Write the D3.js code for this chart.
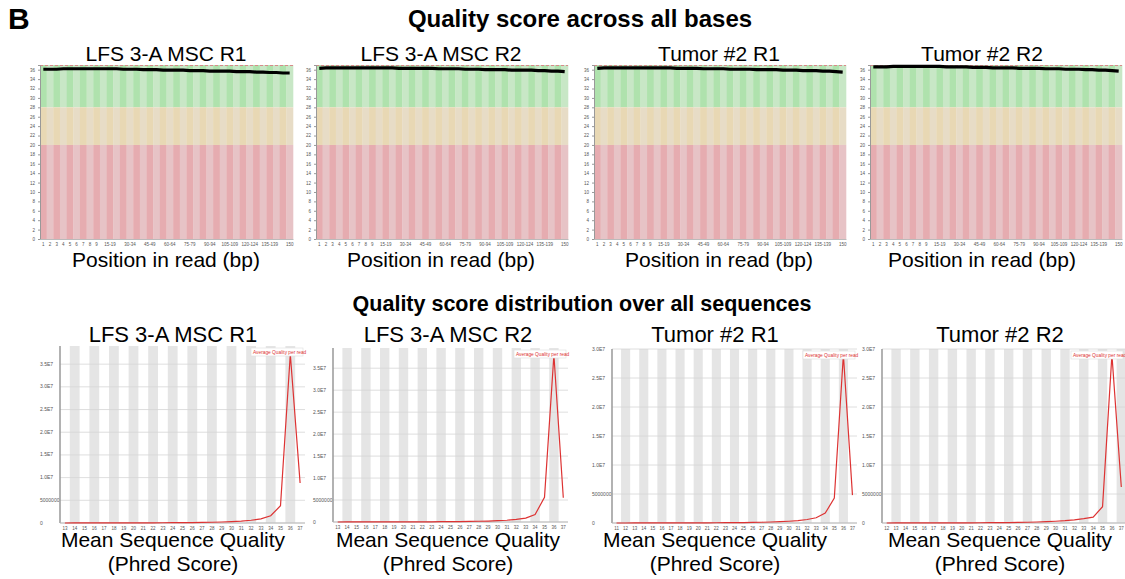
<!DOCTYPE html>
<html>
<head>
<meta charset="utf-8">
<script src="https://cdn.jsdelivr.net/npm/d3@7"></script>
<style>
  body { margin: 0; background: #fff; }
  svg { display: block; font-family: "Liberation Sans", Arial, sans-serif; }
</style>
</head>
<body>
<div id="figure"></div>
<script>
// Data

const sampleNames = ["LFS 3-A MSC R1", "LFS 3-A MSC R2", "Tumor #2 R1", "Tumor #2 R2"];

// per-base quality: x categories (FastQC grouped bins)
const positionLabels = ["1","2","3","4","5","6","7","8","9","10-14","15-19","20-24","25-29","30-34",
  "35-39","40-44","45-49","50-54","55-59","60-64","65-69","70-74","75-79","80-84","85-89","90-94",
  "95-99","100-104","105-109","110-114","115-119","120-124","125-129","130-134","135-139","140-144",
  "145-149","150"];
const shownPositionLabels = ["1","2","3","4","5","6","7","8","9","15-19","30-34","45-49","60-64",
  "75-79","90-94","105-109","120-124","135-139","150"];
const qualityTicks = [0,2,4,6,8,10,12,14,16,18,20,22,24,26,28,30,32,34,36];

// mean quality per bin, one array per sample
const meanQualR1 = [36.1,36.1,36.1,36.2,36.2,36.2,36.2,36.2,36.2,36.2,36.2,36.2,36.1,36.1,36.1,36.0,36.0,36.0,
  35.9,35.9,35.9,35.9,35.8,35.8,35.8,35.7,35.7,35.7,35.7,35.6,35.6,35.6,35.5,35.5,35.4,35.4,35.3,35.3];
const meanQualR2 = [36.3,36.4,36.4,36.4,36.4,36.4,36.4,36.4,36.4,36.4,36.4,36.4,36.3,36.3,36.3,36.3,36.3,36.3,
  36.2,36.2,36.2,36.2,36.1,36.1,36.1,36.0,36.0,36.0,36.0,35.9,35.9,35.9,35.9,35.8,35.8,35.7,35.7,35.6];
const meanQualT1 = [36.3,36.4,36.4,36.4,36.4,36.4,36.4,36.4,36.4,36.4,36.4,36.4,36.3,36.3,36.3,36.3,36.2,36.2,
  36.2,36.2,36.1,36.1,36.1,36.1,36.0,36.0,36.0,36.0,35.9,35.9,35.9,35.8,35.8,35.8,35.7,35.7,35.6,35.5];
const meanQualT2 = [36.6,36.6,36.6,36.7,36.7,36.7,36.7,36.7,36.7,36.7,36.7,36.6,36.6,36.6,36.6,36.5,36.5,36.5,
  36.4,36.4,36.4,36.4,36.3,36.3,36.3,36.3,36.2,36.2,36.2,36.1,36.1,36.1,36.0,36.0,35.9,35.9,35.8,35.7];

// per-sequence quality: mean quality categories and read counts
const seqQualCatsR1 = [13,14,15,16,17,18,19,20,21,22,23,24,25,26,27,28,29,30,31,32,33,34,35,36,37];
const seqCountsR1 = [5e3,6e3,8e3,1e4,1.2e4,1.5e4,2e4,2.5e4,3e4,4e4,5e4,6.5e4,8e4,1e5,1.3e5,1.7e5,2.2e5,
  3e5,4e5,6e5,9e5,1.6e6,3.8e6,3.72e7,8.8e6];
const seqQualCatsR2 = [13,14,15,16,17,18,19,20,21,22,23,24,25,26,27,28,29,30,31,32,33,34,35,36,37];
const seqCountsR2 = [5e3,6e3,8e3,1e4,1.2e4,1.5e4,2e4,2.5e4,3e4,4e4,5e4,6.5e4,8e4,1e5,1.3e5,1.7e5,2.2e5,
  3e5,4e5,6e5,9e5,1.7e6,5.6e6,3.8e7,5.5e6];
const seqQualCatsT1 = [11,12,13,14,15,16,17,18,19,20,21,22,23,24,25,26,27,28,29,30,31,32,33,34,35,36,37];
const seqCountsT1 = [3e3,4e3,5e3,6e3,8e3,1e4,1.2e4,1.5e4,2e4,2.5e4,3e4,4e4,5e4,6.5e4,8e4,1e5,1.3e5,1.7e5,
  2.2e5,3e5,4e5,6e5,9e5,1.7e6,4.3e6,2.9e7,4.8e6];
const seqQualCatsT2 = [12,13,14,15,16,17,18,19,20,21,22,23,24,25,26,27,28,29,30,31,32,33,34,35,36,37];
const seqCountsT2 = [4e3,5e3,6e3,8e3,1e4,1.2e4,1.5e4,2e4,2.5e4,3e4,4e4,5e4,6.5e4,8e4,1e5,1.3e5,1.7e5,
  2.2e5,3e5,4e5,5.5e5,7.5e5,1.0e6,2.8e6,2.9e7,6.2e6];
const countTicks = [0,5e6,1e7,1.5e7,2e7,2.5e7,3e7,3.5e7];

// Layout (pixel boxes of each panel)
const W = 1125, H = 579;
const topPanels = [
  {name: sampleNames[0], mean: meanQualR1, x0: 40,  x1: 293,  tx: 166},
  {name: sampleNames[1], mean: meanQualR2, x0: 316, x1: 568,  tx: 441},
  {name: sampleNames[2], mean: meanQualT1, x0: 594, x1: 846,  tx: 719},
  {name: sampleNames[3], mean: meanQualT2, x0: 870, x1: 1122, tx: 982}
];
const bottomPanels = [
  {name: sampleNames[0], cats: seqQualCatsR1, counts: seqCountsR1, x0: 60,  x1: 305,  top: 346, bottom: 523, ymax: 3.9e7,  tx: 173},
  {name: sampleNames[1], cats: seqQualCatsR2, counts: seqCountsR2, x0: 333, x1: 568,  top: 348, bottom: 522, ymax: 3.96e7, tx: 448},
  {name: sampleNames[2], cats: seqQualCatsT1, counts: seqCountsT1, x0: 612, x1: 857,  top: 349, bottom: 523, ymax: 3.0e7,  tx: 715},
  {name: sampleNames[3], cats: seqQualCatsT2, counts: seqCountsT2, x0: 882, x1: 1126, top: 349, bottom: 523, ymax: 3.0e7,  tx: 1000}
];

const svg = d3.select("#figure").append("svg")
    .attr("width", W)
    .attr("height", H);

svg.append("text")
    .attr("x", 8).attr("y", 29)
    .attr("font-size", 30).attr("font-weight", "bold")
    .text("B");

svg.append("text")
    .attr("x", 580).attr("y", 27)
    .attr("text-anchor", "middle")
    .attr("font-size", 24).attr("font-weight", "bold")
    .text("Quality score across all bases");

svg.append("text")
    .attr("x", 582).attr("y", 311)
    .attr("text-anchor", "middle")
    .attr("font-size", 21.5).attr("font-weight", "bold")
    .text("Quality score distribution over all sequences");

topPanels.forEach(p => drawBaseQuality(p));
bottomPanels.forEach(p => drawSeqQuality(p));

// per base sequence quality panel
function drawBaseQuality(p) {
    const top = 65, bottom = 239;
    const g = svg.append("g");

    const x = d3.scaleBand()
        .domain(positionLabels)
        .range([p.x0, p.x1]);
    const y = d3.scaleLinear()
        .domain([0, 37])
        .range([bottom, top]);

    const zones = [
        {lo: 28, hi: 37, dark: "#afe2ad", light: "#c8e7c6"},
        {lo: 20, hi: 28, dark: "#e8d8b4", light: "#e7dcc6"},
        {lo: 0,  hi: 20, dark: "#e6acb0", light: "#e7c3c6"}
    ];
    positionLabels.forEach((lab, i) => {
        zones.forEach(z => {
            g.append("rect")
                .attr("x", x(lab))
                .attr("y", y(z.hi))
                .attr("width", x.bandwidth() + 0.3)
                .attr("height", y(z.lo) - y(z.hi))
                .attr("fill", i % 2 === 0 ? z.dark : z.light);
        });
    });

    // dashed top border
    g.append("line")
        .attr("x1", p.x0).attr("x2", p.x1)
        .attr("y1", top + 0.5).attr("y2", top + 0.5)
        .attr("stroke", "#d88a8a").attr("stroke-width", 1)
        .attr("stroke-dasharray", "3,2");

    const yAxis = d3.axisLeft(y)
        .tickValues(qualityTicks)
        .tickSize(2)
        .tickPadding(3);
    const ya = g.append("g")
        .attr("transform", `translate(${p.x0},0)`)
        .call(yAxis);
    ya.select(".domain").attr("stroke", "#999");
    ya.selectAll(".tick line").attr("stroke", "#999");
    ya.selectAll("text").attr("font-size", 4.5).attr("fill", "#555");

    const xAxis = d3.axisBottom(x)
        .tickValues(shownPositionLabels)
        .tickSize(0)
        .tickPadding(4);
    const xa = g.append("g")
        .attr("transform", `translate(0,${bottom})`)
        .call(xAxis);
    xa.select(".domain").attr("stroke", "#bbb");
    xa.selectAll("text").attr("font-size", 4.5).attr("fill", "#555");

    const line = d3.line()
        .x((d, i) => x(positionLabels[i]) + x.bandwidth() / 2)
        .y(d => y(d));
    g.append("path")
        .datum(p.mean)
        .attr("fill", "none")
        .attr("stroke", "#000")
        .attr("stroke-width", 3.2)
        .attr("d", line);

    g.append("text")
        .attr("x", p.tx).attr("y", 61)
        .attr("text-anchor", "middle")
        .attr("font-size", 21)
        .text(p.name);

    g.append("text")
        .attr("x", p.tx).attr("y", 267)
        .attr("text-anchor", "middle")
        .attr("font-size", 21)
        .text("Position in read (bp)");
}

// per sequence quality score panel
function drawSeqQuality(p) {
    const g = svg.append("g");

    const x = d3.scaleBand()
        .domain(p.cats)
        .range([p.x0, p.x1]);
    const y = d3.scaleLinear()
        .domain([0, p.ymax])
        .range([p.bottom, p.top]);

    // alternating grey stripes
    g.selectAll("rect.stripe")
        .data(p.cats.filter((c, i) => i % 2 === 1))
        .enter().append("rect")
        .attr("class", "stripe")
        .attr("x", d => x(d))
        .attr("y", p.top)
        .attr("width", x.bandwidth())
        .attr("height", p.bottom - p.top)
        .attr("fill", "#e5e5e5");

    const ticks = countTicks.filter(t => t <= p.ymax);
    g.selectAll("line.grid")
        .data(ticks)
        .enter().append("line")
        .attr("class", "grid")
        .attr("x1", p.x0).attr("x2", p.x1)
        .attr("y1", d => y(d)).attr("y2", d => y(d))
        .attr("stroke", "#d5d5d5")
        .attr("stroke-width", 0.8);

    g.selectAll("text.ytick")
        .data(ticks)
        .enter().append("text")
        .attr("class", "ytick")
        .attr("x", p.x0 - 20)
        .attr("y", d => y(d) + 1.5)
        .attr("font-size", 5)
        .attr("fill", "#555")
        .text(d => d === 0 ? "0" : d === 5e6 ? "5000000" : (d / 1e7).toFixed(1) + "E7");

    g.append("line")
        .attr("x1", p.x0).attr("x2", p.x0)
        .attr("y1", p.top).attr("y2", p.bottom)
        .attr("stroke", "#999").attr("stroke-width", 1.5);
    g.append("line")
        .attr("x1", p.x0).attr("x2", p.x1)
        .attr("y1", p.bottom).attr("y2", p.bottom)
        .attr("stroke", "#bbb").attr("stroke-width", 1);

    const xAxis = d3.axisBottom(x)
        .tickSize(0)
        .tickPadding(4);
    const xa = g.append("g")
        .attr("transform", `translate(0,${p.bottom})`)
        .call(xAxis);
    xa.select(".domain").remove();
    xa.selectAll("text").attr("font-size", 4.5).attr("fill", "#555");

    const line = d3.line()
        .x((d, i) => x(p.cats[i]) + x.bandwidth() / 2)
        .y(d => y(d));
    g.append("path")
        .datum(p.counts)
        .attr("fill", "none")
        .attr("stroke", "#dd3333")
        .attr("stroke-width", 1.2)
        .attr("d", line);

    // legend box
    const lw = 52;
    const lx = Math.min(p.x1, W) - lw - 2;
    g.append("rect")
        .attr("x", lx).attr("y", p.top + 2)
        .attr("width", lw).attr("height", 8)
        .attr("fill", "#fff")
        .attr("stroke", "#ddd").attr("stroke-width", 0.6);
    g.append("text")
        .attr("x", lx + 2).attr("y", p.top + 7.8)
        .attr("font-size", 4.8)
        .attr("fill", "#dd3333")
        .text("Average Quality per read");

    g.append("text")
        .attr("x", p.tx).attr("y", 342)
        .attr("text-anchor", "middle")
        .attr("font-size", 22)
        .text(p.name);

    g.append("text")
        .attr("x", p.tx).attr("y", 547)
        .attr("text-anchor", "middle")
        .attr("font-size", 21)
        .text("Mean Sequence Quality");
    g.append("text")
        .attr("x", p.tx).attr("y", 571)
        .attr("text-anchor", "middle")
        .attr("font-size", 21)
        .text("(Phred Score)");
}
</script>
</body>
</html>
